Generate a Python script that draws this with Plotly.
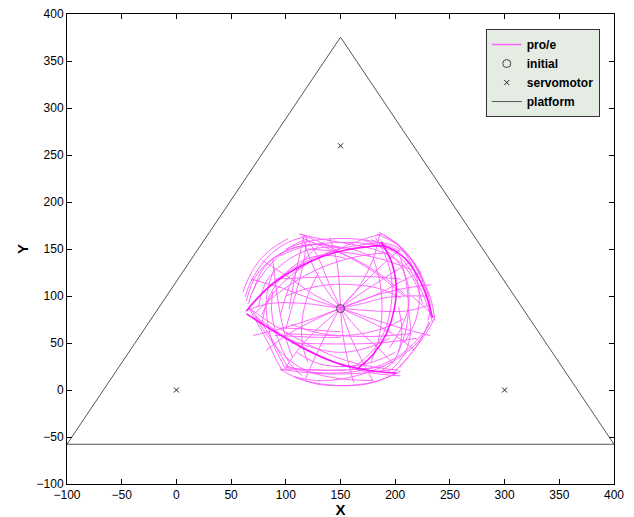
import plotly.graph_objects as go

# ---- data ----
# platform triangle vertices
platform_x = [-100, 400, 150, -100]
platform_y = [-57.7, -57.7, 375.3, -57.7]
# servomotor positions
servo_x = [0, 300, 150]
servo_y = [0, 0, 259.8]
# initial position
initial_x = [150]
initial_y = [86.6]

# pro/e trajectory strokes (thin)
prop_x = [
    # outer arcs
    [63, 66, 78, 92, 106, 118], [66, 70, 82, 96, 110, 120], [61, 64, 74, 88, 102],
    [100, 120, 145, 170, 190, 205], [95, 118, 150, 178, 198],
    [183, 200, 215, 226, 233, 236], [190, 207, 219, 228, 232], [178, 196, 210, 222, 230, 234],
    [236, 228, 218, 208, 198], [231, 224, 214, 204],
    [205, 185, 160, 135, 112, 95], [200, 180, 164, 130, 108], [198, 170, 140, 115, 95], [190, 165, 140, 115, 100],
    [97, 90, 84, 76, 66], [102, 95, 88, 79, 68],
    # curved strokes through the centre
    [115, 122, 134, 150, 168, 185, 198], [186, 180, 168, 150, 128, 112, 100],
    [63, 85, 118, 150, 182, 210, 230], [140, 146, 149, 150, 152, 156, 162],
    [78, 100, 125, 150, 178, 200, 218], [224, 205, 180, 150, 122, 100, 82],
    [120, 130, 140, 150, 158, 168, 180], [205, 190, 170, 150, 138, 128, 118],
    [68, 98, 125, 150, 178, 205, 232], [70, 98, 125, 150, 180, 208, 233],
    # swirl arcs
    [64, 72, 88, 110, 132, 150], [75, 82, 98, 118, 140, 160, 178],
    [112, 135, 160, 185, 205, 218, 225], [188, 170, 148, 125, 105, 88, 78],
    [200, 212, 220, 222, 218, 208], [170, 190, 205, 212, 212, 205, 195],
    [225, 210, 190, 165, 140, 118, 100], [232, 220, 200, 178, 152, 128, 108],
    [100, 94, 88, 84, 82, 84, 90], [115, 104, 96, 90, 87, 88],
    [180, 150, 120, 100, 85, 72], [100, 120, 140, 162, 185, 205],
    [105, 125, 148, 170, 190, 208], [120, 115, 115, 120, 130], [178, 185, 188, 186, 180],
    # inner loops
    [70, 80, 100, 125, 150], [78, 85, 100, 120, 140, 155], [95, 105, 118, 135],
    [110, 130, 155, 180, 200], [100, 125, 150, 175, 195],
    [100, 140, 180, 215], [105, 145, 185, 220], [90, 130, 170, 205],
    [120, 150, 185, 215], [88, 91, 95, 100, 106], [205, 210, 212, 210, 203],
    # repeated passes
    [66, 88, 114, 143, 173, 192, 209, 222], [70, 92, 118, 146, 175, 195],
    [68, 92, 118, 148, 178, 203], [72, 95, 120, 150, 180, 205],
    [182, 192, 197, 196, 190, 178, 162], [185, 205, 220, 229, 232, 230],
    [215, 225, 232, 237], [118, 140, 165, 190, 212], [114, 135, 160, 185, 208],
    [117, 112, 107, 103], [119, 117, 112, 106, 100],
    [95, 115, 135, 150], [90, 110, 130, 150], [96, 115, 135, 155],
    [203, 206, 204, 198, 188], [212, 214, 210, 202, 192],
    [150, 165, 182, 198, 212], [150, 170, 190, 210, 228],
]
prop_y = [
    [99, 110, 134, 150, 159, 163], [92, 106, 128, 145, 156, 161], [104, 114, 135, 151, 161],
    [150, 158, 161, 160, 155, 147], [143, 153, 157, 155, 148],
    [166, 156, 138, 115, 95, 76], [165, 150, 130, 105, 80], [160, 150, 134, 110, 88, 72],
    [76, 60, 44, 30, 18], [73, 55, 38, 24],
    [20, 10, 5, 6, 12, 22], [17, 8, 5, 6, 14], [22, 18, 17, 19, 22], [25, 22, 21, 22, 24],
    [20, 35, 50, 67, 88], [24, 38, 53, 69, 86],
    [164, 140, 112, 87, 62, 44, 28], [166, 140, 112, 87, 64, 44, 24],
    [84, 92, 92, 87, 84, 84, 90], [162, 140, 112, 87, 60, 35, 8],
    [138, 122, 102, 87, 72, 58, 42], [126, 115, 100, 87, 72, 58, 42],
    [160, 140, 112, 87, 60, 35, 9], [150, 135, 112, 87, 62, 38, 12],
    [118, 108, 96, 87, 76, 66, 58], [58, 66, 76, 87, 100, 108, 112],
    [95, 120, 140, 152, 155, 150], [88, 115, 135, 148, 152, 150, 142],
    [166, 160, 155, 148, 135, 115, 92], [166, 160, 150, 138, 122, 102, 80],
    [158, 140, 118, 95, 72, 50], [160, 150, 132, 110, 88, 65, 45],
    [60, 42, 28, 20, 18, 20, 26], [72, 50, 32, 20, 12, 10, 14],
    [22, 35, 50, 68, 90, 110, 130], [15, 28, 45, 65, 85, 105],
    [10, 12, 20, 35, 55, 78], [100, 108, 112, 112, 108, 98],
    [70, 62, 58, 60, 66, 76], [30, 50, 75, 100, 125], [30, 55, 85, 115, 140],
    [105, 130, 148, 155, 152], [70, 100, 125, 140, 143, 140], [80, 115, 140, 158],
    [40, 28, 25, 30, 40], [55, 45, 40, 45, 55],
    [60, 58, 57, 60], [50, 49, 50, 55], [118, 120, 121, 118],
    [150, 147, 140, 128], [140, 110, 80, 55, 35], [140, 115, 90, 65, 40],
    [88, 114, 134, 148, 155, 156, 146, 126], [80, 102, 122, 136, 144, 146],
    [86, 67, 50, 34, 25, 21], [78, 60, 43, 27, 18, 15],
    [162, 140, 115, 88, 62, 40, 24], [168, 152, 131, 106, 88, 74],
    [100, 90, 82, 74], [160, 150, 138, 120, 98], [166, 155, 140, 122, 100],
    [165, 140, 112, 86], [164, 140, 115, 90, 65],
    [66, 65, 63, 62], [58, 57, 56, 56], [22, 22, 21, 21],
    [88, 65, 45, 30, 21], [85, 62, 42, 28, 18],
    [87, 100, 113, 125, 135], [87, 92, 98, 100, 100],
]
# bolder trajectory strokes
bold_x = [
    [64, 84, 111, 141, 172, 190, 208, 221, 230, 234],
    [64, 90, 115, 146, 175, 201],
    [187, 197, 201, 199, 192, 180, 165],
]
bold_y = [
    [84, 109, 130, 145, 152, 153, 141, 120, 95, 77],
    [81, 62, 45, 29, 21, 18],
    [158, 135, 110, 85, 60, 38, 22],
]


def join(strokes):
    out = []
    for s in strokes:
        out += list(s) + [None]
    return out


PINK = "#ff00ff"
fig = go.Figure()
fig.add_trace(go.Scatter(x=join(prop_x), y=join(prop_y), mode="lines", showlegend=False,
                         line=dict(color=PINK, width=0.9, shape="spline"), opacity=0.65))
fig.add_trace(go.Scatter(x=join(bold_x), y=join(bold_y), mode="lines", showlegend=False,
                         line=dict(color=PINK, width=1.6, shape="spline"), opacity=0.9))
fig.add_trace(go.Scatter(x=[None], y=[None], mode="lines", name="pro/e",
                         line=dict(color="#ff66ff", width=1.5)))
fig.add_trace(go.Scatter(x=initial_x, y=initial_y, mode="markers", name="initial",
                         marker=dict(symbol="circle-open", size=8, color="#444444",
                                     line=dict(width=1))))
fig.add_trace(go.Scatter(x=servo_x, y=servo_y, mode="markers", name="servomotor",
                         marker=dict(symbol="x-thin", size=5, color="#222222",
                                     line=dict(width=1, color="#222222"))))
fig.add_trace(go.Scatter(x=platform_x, y=platform_y, mode="lines", name="platform",
                         line=dict(color="#555555", width=1)))

axis_common = dict(
    dtick=50, ticks="inside", ticklen=5, tickcolor="black", mirror="allticks",
    showline=True, linecolor="black", linewidth=1, showgrid=False, zeroline=False,
    automargin=False, ticklabeloverflow="allow",
    tickfont=dict(family="Arial", size=12, color="black"),
)
fig.update_xaxes(range=[-100, 400], tick0=-100,
                 title=dict(text="X", font=dict(family="Arial", size=15, color="black", weight="bold"),
                            standoff=0),
                 **axis_common)
fig.update_yaxes(range=[-100, 400], tick0=-100,
                 title=dict(text="Y", font=dict(family="Arial", size=15, color="black", weight="bold"),
                            standoff=4),
                 **axis_common)

fig.update_layout(
    width=627, height=510,
    margin=dict(l=59, r=21, t=6, b=34),
    plot_bgcolor="white", paper_bgcolor="white",
    legend=dict(x=0.974, y=0.968, xanchor="right", yanchor="top",
                bgcolor="#e4ece4", bordercolor="#333333", borderwidth=1,
                font=dict(family="Arial", size=12, color="black", weight="bold"),
                tracegroupgap=0, itemwidth=30),
)

fig.write_html("out.html")
